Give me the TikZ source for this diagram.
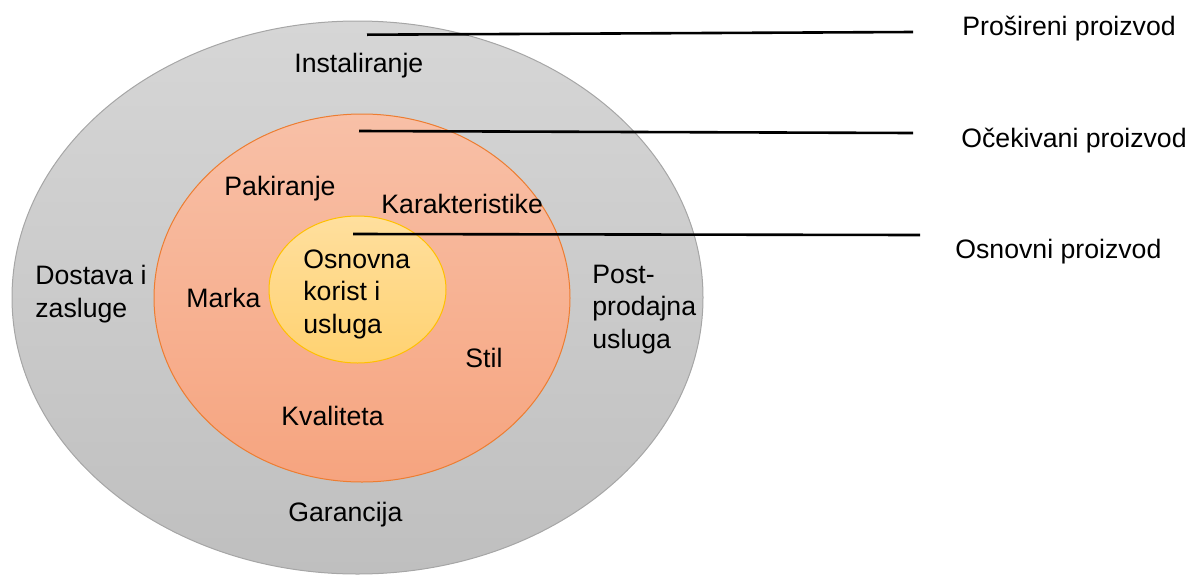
\documentclass[tikz,border=0pt]{standalone}
\usepackage{fontspec}
\setmainfont{Liberation Sans}
\usetikzlibrary{shapes.geometric}
\definecolor{outerTop}{HTML}{D6D6D6}
\definecolor{outerBot}{HTML}{BFBFBF}
\definecolor{outerLine}{HTML}{A6A6A6}
\definecolor{oraTop}{HTML}{F8C0A7}
\definecolor{oraBot}{HTML}{F6A47F}
\definecolor{oraLine}{HTML}{ED7D31}
\definecolor{yelTop}{HTML}{FFDF9E}
\definecolor{yelBot}{HTML}{FFD271}
\definecolor{yelLine}{HTML}{FFC000}
\begin{document}
\begin{tikzpicture}[x=0.5pt,y=-0.5pt,
  lbl/.style={inner sep=0pt, anchor=base west, font=\fontsize{13.33pt}{16.25pt}\selectfont, align=left},
  ring/.style={ellipse, inner sep=0pt, line width=0.5pt},
  leader/.style={line width=1.3pt, black}]
\useasboundingbox (0,0) rectangle (1200,574);
\node[ring, draw=outerLine, top color=outerTop, bottom color=outerBot, minimum width=345.5pt, minimum height=276.5pt] (outer) at (357.5,297.5) {};
\node[ring, draw=oraLine, top color=oraTop, bottom color=oraBot, minimum width=208pt, minimum height=184pt] (orange) at (362,298) {};
\node[ring, draw=yelLine, top color=yelTop, bottom color=yelBot, minimum width=88.5pt, minimum height=73.5pt] (yellow) at (357.5,289.5) {};

\node[lbl] (inst) at (294,72) {Instaliranje};
\node[lbl] (dost) at (35,317) {Dostava i\\zasluge};
\node[lbl] (post) at (592,348) {Post-\\prodajna\\usluga};
\node[lbl] (gar) at (288,521) {Garancija};
\node[lbl] (pak) at (224,195) {Pakiranje};
\node[lbl] (kar) at (381,213) {Karakteristike};
\node[lbl] (mar) at (186,307) {Marka};
\node[lbl] (stil) at (465,367) {Stil};
\node[lbl] (kval) at (281,425) {Kvaliteta};
\node[lbl] (osn) at (303,333) {Osnovna\\korist i\\usluga};

\node[lbl] (lp) at (962,35) {Prošireni proizvod};
\node[lbl] (lo) at (961,147) {Očekivani proizvod};
\node[lbl] (lb) at (955,258) {Osnovni proizvod};

\coordinate (a1) at (367,34.7);
\coordinate (b1) at (913,32);
\coordinate (a2) at (359,131);
\coordinate (b2) at (913,133);
\coordinate (a3) at (353,234);
\coordinate (b3) at (920,235);
\draw[leader] (a1) -- (b1);
\draw[leader] (a2) -- (b2);
\draw[leader] (a3) -- (b3);
\end{tikzpicture}
\end{document}
